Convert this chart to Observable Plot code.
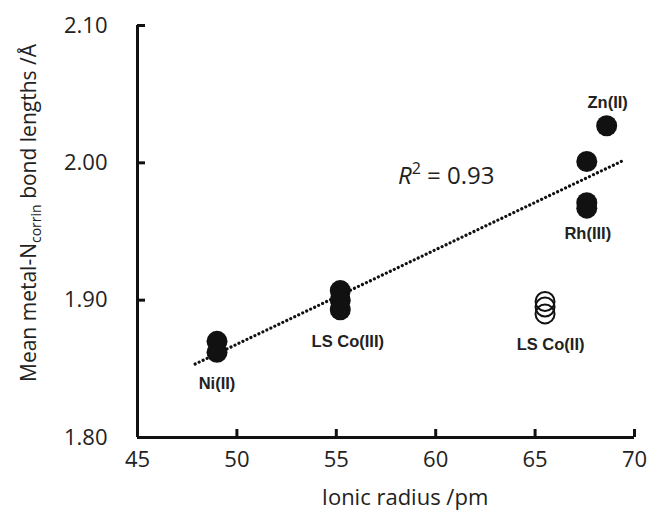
<!DOCTYPE html>
<html><head><meta charset="utf-8">
<script src="https://cdn.jsdelivr.net/npm/d3@7"></script>
<script src="https://cdn.jsdelivr.net/npm/@observablehq/plot@0.6"></script>
<style>body{margin:0;background:#fff} svg{display:block}</style>
</head><body><div id="chart"></div>
<script>
// --- data ---
const pointMetal  = ["Ni(II)","Ni(II)","LS Co(III)","LS Co(III)","LS Co(III)","LS Co(II)","LS Co(II)","LS Co(II)","Rh(III)","Rh(III)","Rh(III)","Zn(II)"];
const pointRadius = [49, 49, 55.2, 55.2, 55.2, 65.5, 65.5, 65.5, 67.6, 67.6, 67.6, 68.6];
const pointBond   = [1.870, 1.862, 1.907, 1.900, 1.893, 1.899, 1.895, 1.890, 2.001, 1.971, 1.967, 2.027];
const pointFilled = [true, true, true, true, true, false, false, false, true, true, true, true];

const labelMetal  = ["Ni(II)", "LS Co(III)", "LS Co(II)", "Rh(III)", "Zn(II)"];
const labelRadius = [49, 55.2, 65.5, 67.6, 68.6];
const labelBond   = [1.862, 1.893, 1.890, 1.967, 2.027];

const trendRadius = [47.9, 69.45];
const trendBond   = [1.8535, 2.0018];
const rSquared = "0.93";

const xTicks = [45, 50, 55, 60, 65, 70];
const yTicks = [1.80, 1.90, 2.00, 2.10];

// --- build ---
const points = pointRadius.map((x, i) => ({x, y: pointBond[i], filled: pointFilled[i], metal: pointMetal[i]}));
const filledPts = points.filter(d => d.filled);
const openPts = points.filter(d => !d.filled);
const labels = labelMetal.map((m, i) => ({m, x: labelRadius[i], y: labelBond[i]}));
const labelOffset = {"Ni(II)": [0, 31], "LS Co(III)": [7.5, 32], "LS Co(II)": [5.5, 31], "Rh(III)": [1, 26], "Zn(II)": [1, -23]};
const trend = trendRadius.map((x, i) => ({x, y: trendBond[i]}));

const ink = "#111";
const txt = "#222";

const plot = Plot.plot({
  width: 666, height: 517,
  marginLeft: 137, marginRight: 32, marginTop: 25, marginBottom: 80,
  x: {domain: [45, 70]},
  y: {domain: [1.8, 2.1]},
  style: {background: "white", fontFamily: "'Open Sans', sans-serif", overflow: "visible"},
  marks: [
    // axis lines
    Plot.ruleX([45], {stroke: ink, strokeWidth: 3}),
    Plot.ruleY([1.8], {stroke: ink, strokeWidth: 3}),
    // inward ticks
    Plot.axisX(xTicks, {tickSize: -8, text: null, stroke: ink, strokeWidth: 3, label: null}),
    Plot.axisY(yTicks, {tickSize: -8, text: null, stroke: ink, strokeWidth: 3, label: null}),
    // tick labels
    Plot.axisX(xTicks, {tickSize: 0, tickPadding: 14, fontSize: 22, fill: txt, label: null}),
    Plot.axisY(yTicks, {tickSize: 0, tickPadding: 30, fontSize: 22, fill: txt, tickFormat: d3.format(".2f"), label: null}),
    // trend line
    Plot.line(trend, {x: "x", y: "y", stroke: ink, strokeWidth: 3.2, strokeDasharray: "0.01 4.4", strokeLinecap: "round"}),
    // points
    Plot.dot(filledPts, {x: "x", y: "y", r: 10.5, fill: ink, stroke: "none"}),
    Plot.dot(openPts, {x: "x", y: "y", r: 9.5, fill: "none", stroke: ink, strokeWidth: 2}),
    // point labels
    ...labels.map(l => Plot.text([l], {x: "x", y: "y", text: "m", dx: labelOffset[l.m][0], dy: labelOffset[l.m][1],
      fontFamily: "'Liberation Sans', Arial, sans-serif", fontWeight: "bold", fontSize: 16.5, fill: txt})),
    // axis title x
    Plot.text(["Ionic radius /pm"], {frameAnchor: "bottom", dx: 19, dy: 67, fontSize: 22, fill: txt}),
    // R squared placeholder
    Plot.text([rSquared], {x: 58.1, y: 1.99, text: d => "R2 = " + d, textAnchor: "start", fontSize: 24, fill: txt})
  ]
});

const svg = d3.select(plot);
// rich text for R^2
svg.selectAll("text").filter(function() { return this.textContent === "R2 = " + rSquared; }).each(function() {
  const t = d3.select(this);
  t.text(null);
  t.append("tspan").attr("font-style", "italic").text("R");
  t.append("tspan").attr("font-size", 16).attr("dy", -10).text("2");
  t.append("tspan").attr("dy", 10).text(" = " + rSquared);
});
// y axis title with subscript
const yt = svg.append("text")
  .attr("transform", "translate(36,213) rotate(-90)")
  .attr("text-anchor", "middle")
  .attr("font-size", 21)
  .attr("fill", txt)
  .attr("font-family", "'Open Sans', sans-serif");
yt.append("tspan").text("Mean metal-N");
yt.append("tspan").attr("font-size", 14).attr("dy", 5).text("corrin");
yt.append("tspan").attr("dy", -5).text(" bond lengths /Å");

document.getElementById("chart").appendChild(plot);
</script>
</body></html>
